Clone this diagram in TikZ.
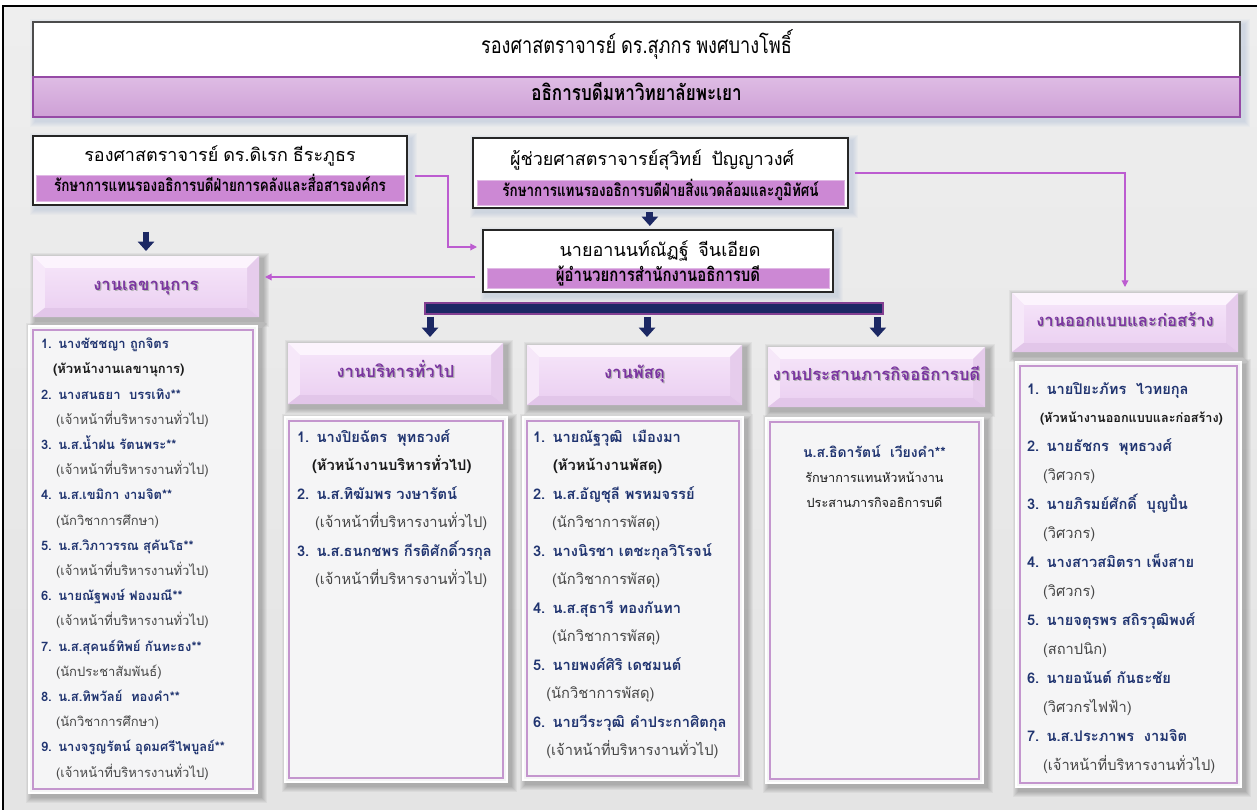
\documentclass[tikz,border=0pt]{standalone}
\usepackage{fontspec}
\newfontfamily\thai[Script=Thai,WordSpace=0.8]{Loma}
\newfontfamily\thaic[Script=Thai,FakeStretch=0.8,WordSpace=0.8]{Loma}
\usetikzlibrary{arrows.meta}
\lineskiplimit=-50pt
\definecolor{navy}{RGB}{28,40,100}
\definecolor{bandpurple}{RGB}{204,136,212}
\definecolor{toplavA}{RGB}{222,188,228}
\definecolor{toplavB}{RGB}{206,160,214}
\definecolor{hdrtext}{RGB}{122,52,160}
\definecolor{conn}{RGB}{188,92,208}
\definecolor{namecol}{RGB}{32,52,112}
\definecolor{subcol}{RGB}{70,70,70}
\definecolor{headsub}{RGB}{25,25,25}
\definecolor{bgtop}{RGB}{238,238,238}
\definecolor{bgbot}{RGB}{228,228,228}
\definecolor{listfill}{RGB}{245,245,246}
\definecolor{listline}{RGB}{196,150,206}
\definecolor{facetop}{RGB}{244,226,248}
\definecolor{facebot}{RGB}{236,210,242}
\definecolor{bevT}{RGB}{252,244,253}
\definecolor{bevL}{RGB}{246,232,249}
\definecolor{bevR}{RGB}{230,204,236}
\definecolor{bevB}{RGB}{226,198,233}
\definecolor{glow}{RGB}{120,150,200}
\newcommand\leftf{\thai\fontsize{9.75}{18.9}\selectfont}
\newcommand\midf{\thai\fontsize{11}{21.4}\selectfont}
\newcommand\rightf{\thai\fontsize{11}{21.7}\selectfont}
\newcommand\pn[1]{{\color{namecol}\bfseries #1}}
\newcommand\ph[1]{{\color{headsub}\bfseries #1}}
\newcommand\ps[1]{{\color{subcol}#1}}
\newcommand\mkbox[7]{\node[#6,minimum width={(#4-(#2))*0.75pt},minimum height={(#5-(#3))*0.75pt}] (#1) at ({((#2)+(#4))/2},{((#3)+(#5))/2}) {#7};}
\newcommand\softsh[5]{\foreach \d in {1,...,6}{\fill[#1,opacity=0.045] ({#2+3-\d},{#3+3-\d}) rectangle ({#4+4+\d},{#5+4+\d});}}
\newcommand\hdr[6]{%
 \softsh{black}{#2}{#3}{#4}{#5}
 \mkbox{#1}{#2}{#3}{#4}{#5}{hbx}{}
 \fill[bevT] (#1.north west) -- (#1.north east) -- ([shift={(-9pt,-9pt)}]#1.north east) -- ([shift={(9pt,-9pt)}]#1.north west) -- cycle;
 \fill[bevL] (#1.north west) -- ([shift={(9pt,-9pt)}]#1.north west) -- ([shift={(9pt,7pt)}]#1.south west) -- (#1.south west) -- cycle;
 \fill[bevR] (#1.north east) -- ([shift={(-9pt,-9pt)}]#1.north east) -- ([shift={(-9pt,7pt)}]#1.south east) -- (#1.south east) -- cycle;
 \fill[bevB] (#1.south west) -- ([shift={(9pt,7pt)}]#1.south west) -- ([shift={(-9pt,7pt)}]#1.south east) -- (#1.south east) -- cycle;
 \shade[top color=facetop,bottom color=facebot] ([shift={(9pt,-9pt)}]#1.north west) rectangle ([shift={(-9pt,7pt)}]#1.south east);
 \node[htext,text=black!30] (#1s) at ([shift={(0.9pt,-0.9pt)}]#1.center) {#6};
 \node[htext] (#1t) at (#1.center) {#6};
}
\newcommand\lst[5]{%
 \softsh{black}{#2}{#3}{#4}{#5}
 \mkbox{#1}{#2}{#3}{#4}{#5}{lbx}{}
 \draw[listline,line width=0.9pt] ([shift={(3pt,-3pt)}]#1.north west) rectangle ([shift={(-3pt,3pt)}]#1.south east);
}
\newcommand\pbox[5]{%
 \softsh{glow}{#2}{#3}{#4}{#5}
 \mkbox{#1}{#2}{#3}{#4}{#5}{pbx}{}}
\begin{document}
\begin{tikzpicture}[x=0.75pt,y=-0.75pt,
  tc/.style={inner sep=0pt,outer sep=0pt,text height=0.8em,text depth=0.24em},
  hbx/.style={rectangle,inner sep=0pt,outer sep=0pt,fill=facetop},
  lbx/.style={rectangle,inner sep=0pt,outer sep=0pt,fill=listfill,draw=white,line width=2pt},
  pbx/.style={rectangle,inner sep=0pt,outer sep=0pt,fill=white,draw=black!85,line width=1pt},
  band/.style={rectangle,tc,fill=bandpurple,draw=bandpurple!60!white,line width=0.6pt},
  htext/.style={tc,text=hdrtext,font=\thai\bfseries\fontsize{12.5}{15}\selectfont},
  pname/.style={tc,font=\thai\fontsize{13.5}{16}\selectfont},
  lt/.style={anchor=base west,inner sep=0pt,outer sep=0pt,text width=200pt,align=left},
  blk/.style={draw=navy,line width=5.2pt,-{Triangle[length=7pt,width=12pt]}},
  pconn/.style={draw=conn,line width=0.9pt,-{Triangle[length=5pt,width=5pt]}},
  barst/.style={rectangle,inner sep=0pt,outer sep=0pt,fill=navy,draw=conn!70!black,line width=0.8pt}]
\useasboundingbox (0,0) rectangle (1257,810);
% background
\fill[white] (0,0) rectangle (1257,810);
\shade[top color=bgtop,bottom color=bgbot] (3,6) rectangle (1257,810);
\draw[black,line width=1.2pt] (3,810) -- (3,6) -- (1257,6);
% top box
\softsh{glow}{33}{22}{1240}{117}
\mkbox{top}{33}{22}{1240}{77}{rectangle,tc,fill=white,draw=black!70,line width=0.8pt,font=\thaic\fontsize{17}{20}\selectfont}{รองศาสตราจารย์ ดร.สุภกร พงศบางโพธิ์}
\mkbox{topband}{33}{77}{1240}{117}{rectangle,tc,top color=toplavA,bottom color=toplavB,draw=conn!80!black,line width=0.8pt,font=\thaic\bfseries\fontsize{16}{19}\selectfont}{อธิการบดีมหาวิทยาลัยพะเยา}
% vice presidents and director
\pbox{vpl}{33}{136}{407}{205}
\node[pname] (vpln) at (220,158) {รองศาสตราจารย์ ดร.ดิเรก ธีระภูธร};
\mkbox{vplb}{36}{175}{404}{201}{band,font=\thaic\bfseries\fontsize{12.6}{15}\selectfont}{รักษาการแทนรองอธิการบดีฝ่ายการคลังและสื่อสารองค์กร}
\pbox{vpm}{473}{138}{848}{208}
\node[pname] (vpmn) at (652,162) {ผู้ช่วยศาสตราจารย์สุวิทย์\ \ ปัญญาวงศ์};
\mkbox{vpmb}{477}{180}{844}{205}{band,font=\thaic\bfseries\fontsize{12.6}{15}\selectfont}{รักษาการแทนรองอธิการบดีฝ่ายสิ่งแวดล้อมและภูมิทัศน์}
\pbox{dir}{483}{230}{833}{292}
\node[pname] (dirn) at (660,253) {นายอานนท์ณัฏฐ์\ \ จีนเอียด};
\mkbox{dirb}{487}{268}{829}{288}{band,font=\thaic\bfseries\fontsize{14}{16}\selectfont}{ผู้อำนวยการสำนักงานอธิการบดี}
% bar
\mkbox{bar}{425}{303}{883}{314}{barst}{}
% headers
\hdr{h1}{33}{256}{259}{317}{งานเลขานุการ}
\hdr{h2}{288}{343}{503}{404}{งานบริหารทั่วไป}
\hdr{h3}{527}{345}{742}{405}{งานพัสดุ}
\hdr{h4}{768}{347}{985}{407}{งานประสานภารกิจอธิการบดี}
\hdr{h5}{1012}{293}{1238}{352}{งานออกแบบและก่อสร้าง}
% lists
\lst{l1}{29}{326}{257}{793}
\lst{l2}{285}{417}{507}{782}
\lst{l3}{523}{417}{743}{780}
\lst{l4}{766}{418}{983}{783}
\lst{l5}{1016}{362}{1241}{787}
\node[lt,font=\leftf] (t1) at (41,348.6) {\pn{1. นางชัชชญา ถูกจิตร}\\
\hspace*{9pt}\ph{(หัวหน้างานเลขานุการ)}\\
\pn{2. นางสนธยา\ \ บรรเทิง**}\\
\hspace*{11.25pt}\ps{(เจ้าหน้าที่บริหารงานทั่วไป)}\\
\pn{3. น.ส.น้ำฝน รัตนพระ**}\\
\hspace*{11.25pt}\ps{(เจ้าหน้าที่บริหารงานทั่วไป)}\\
\pn{4. น.ส.เขมิกา งามจิต**}\\
\hspace*{11.25pt}\ps{(นักวิชาการศึกษา)}\\
\pn{5. น.ส.วิภาวรรณ สุคันโธ**}\\
\hspace*{11.25pt}\ps{(เจ้าหน้าที่บริหารงานทั่วไป)}\\
\pn{6. นายณัฐพงษ์ ฟองมณี**}\\
\hspace*{11.25pt}\ps{(เจ้าหน้าที่บริหารงานทั่วไป)}\\
\pn{7. น.ส.สุคนธ์ทิพย์ กันทะธง**}\\
\hspace*{11.25pt}\ps{(นักประชาสัมพันธ์)}\\
\pn{8. น.ส.ทิพวัลย์\ \ ทองคำ**}\\
\hspace*{11.25pt}\ps{(นักวิชาการศึกษา)}\\
\pn{9. นางจรูญรัตน์ อุดมศรีไพบูลย์**}\\
\hspace*{11.25pt}\ps{(เจ้าหน้าที่บริหารงานทั่วไป)}};
\node[lt,font=\midf] (t2) at (297,442) {\pn{1. นางปิยฉัตร\ \ พุทธวงศ์}\\
\hspace*{11.25pt}\ph{(หัวหน้างานบริหารทั่วไป)}\\
\pn{2. น.ส.ทิฆัมพร วงษารัตน์}\\
\hspace*{13.5pt}\ps{(เจ้าหน้าที่บริหารงานทั่วไป)}\\
\pn{3. น.ส.ธนกชพร กีรติศักดิ์วรกุล}\\
\hspace*{13.5pt}\ps{(เจ้าหน้าที่บริหารงานทั่วไป)}};
\node[lt,font=\midf] (t3) at (533,442) {\pn{1. นายณัฐวุฒิ\ \ เมืองมา}\\
\hspace*{15pt}\ph{(หัวหน้างานพัสดุ)}\\
\pn{2. น.ส.อัญชุลี พรหมจรรย์}\\
\hspace*{14.25pt}\ps{(นักวิชาการพัสดุ)}\\
\pn{3. นางนิรชา เตชะกุลวิโรจน์}\\
\hspace*{14.25pt}\ps{(นักวิชาการพัสดุ)}\\
\pn{4. น.ส.สุธารี ทองกันทา}\\
\hspace*{14.25pt}\ps{(นักวิชาการพัสดุ)}\\
\pn{5. นายพงศ์ศิริ เดชมนต์}\\
\hspace*{10pt}\ps{(นักวิชาการพัสดุ)}\\
\pn{6. นายวีระวุฒิ คำประกาศิตกุล}\\
\hspace*{10pt}\ps{(เจ้าหน้าที่บริหารงานทั่วไป)}};
\node[anchor=base,inner sep=0pt,text width=150pt,align=center,font=\thai\fontsize{10.5}{18.75}\selectfont] (t4) at (874.5,457) {\pn{น.ส.ธิดารัตน์\ \ เวียงคำ**}\\
{\color{headsub}\fontsize{9.5}{18.75}\selectfont รักษาการแทนหัวหน้างาน}\\
{\color{headsub}\fontsize{9.5}{18.75}\selectfont ประสานภารกิจอธิการบดี}};
\node[lt,font=\rightf] (t5) at (1027,394) {\pn{1. นายปิยะภัทร\ \ ไวทยกุล}\\
\hspace*{9.75pt}{\fontsize{9.5}{21.7}\selectfont\ph{(หัวหน้างานออกแบบและก่อสร้าง)}}\\
\pn{2. นายธัชกร\ \ พุทธวงศ์}\\
\hspace*{12pt}\ps{(วิศวกร)}\\
\pn{3. นายภิรมย์ศักดิ์\ \ บุญปั๋น}\\
\hspace*{12pt}\ps{(วิศวกร)}\\
\pn{4. นางสาวสมิตรา เพ็งสาย}\\
\hspace*{12pt}\ps{(วิศวกร)}\\
\pn{5. นายจตุรพร สถิรวุฒิพงศ์}\\
\hspace*{12pt}\ps{(สถาปนิก)}\\
\pn{6. นายอนันต์ กันธะชัย}\\
\hspace*{12pt}\ps{(วิศวกรไฟฟ้า)}\\
\pn{7. น.ส.ประภาพร\ \ งามจิต}\\
\hspace*{12pt}\ps{(เจ้าหน้าที่บริหารงานทั่วไป)}};
% block arrows
\draw[blk,shorten <=20pt,shorten >=3.75pt] (vpl.south -| h1.north) -- (h1.north);
\coordinate (am) at ([xshift=-8pt]vpm.south);
\draw[blk,shorten <=3pt,shorten >=3pt] (am) -- (am |- dir.north);
\coordinate (a2) at ([xshift=25.9pt]h2.north);
\coordinate (a3) at ([xshift=9.4pt]h3.north);
\coordinate (a4) at ([xshift=1pt]h4.north);
\draw[blk,shorten <=2pt,shorten >=4.5pt] (a2 |- bar.south) -- (a2);
\draw[blk,shorten <=2pt,shorten >=6pt] (a3 |- bar.south) -- (a3);
\draw[blk,shorten <=2pt,shorten >=7.5pt] (a4 |- bar.south) -- (a4);
% purple connectors
\coordinate (k1) at ([yshift=10.5pt]dir.west);
\draw[pconn,shorten <=6pt,shorten >=4.5pt] ([yshift=-4.1pt]vpl.east) -- ++(41,0) |- (k1);
\coordinate (k2) at ([yshift=-12pt]dir.west);
\draw[pconn,shorten <=6pt,shorten >=4.5pt] (k2) -- (k2 -| h1.east);
\draw[pconn,shorten <=5pt,shorten >=4.5pt] (vpm.east) -| (h5.north);
\end{tikzpicture}
\end{document}
